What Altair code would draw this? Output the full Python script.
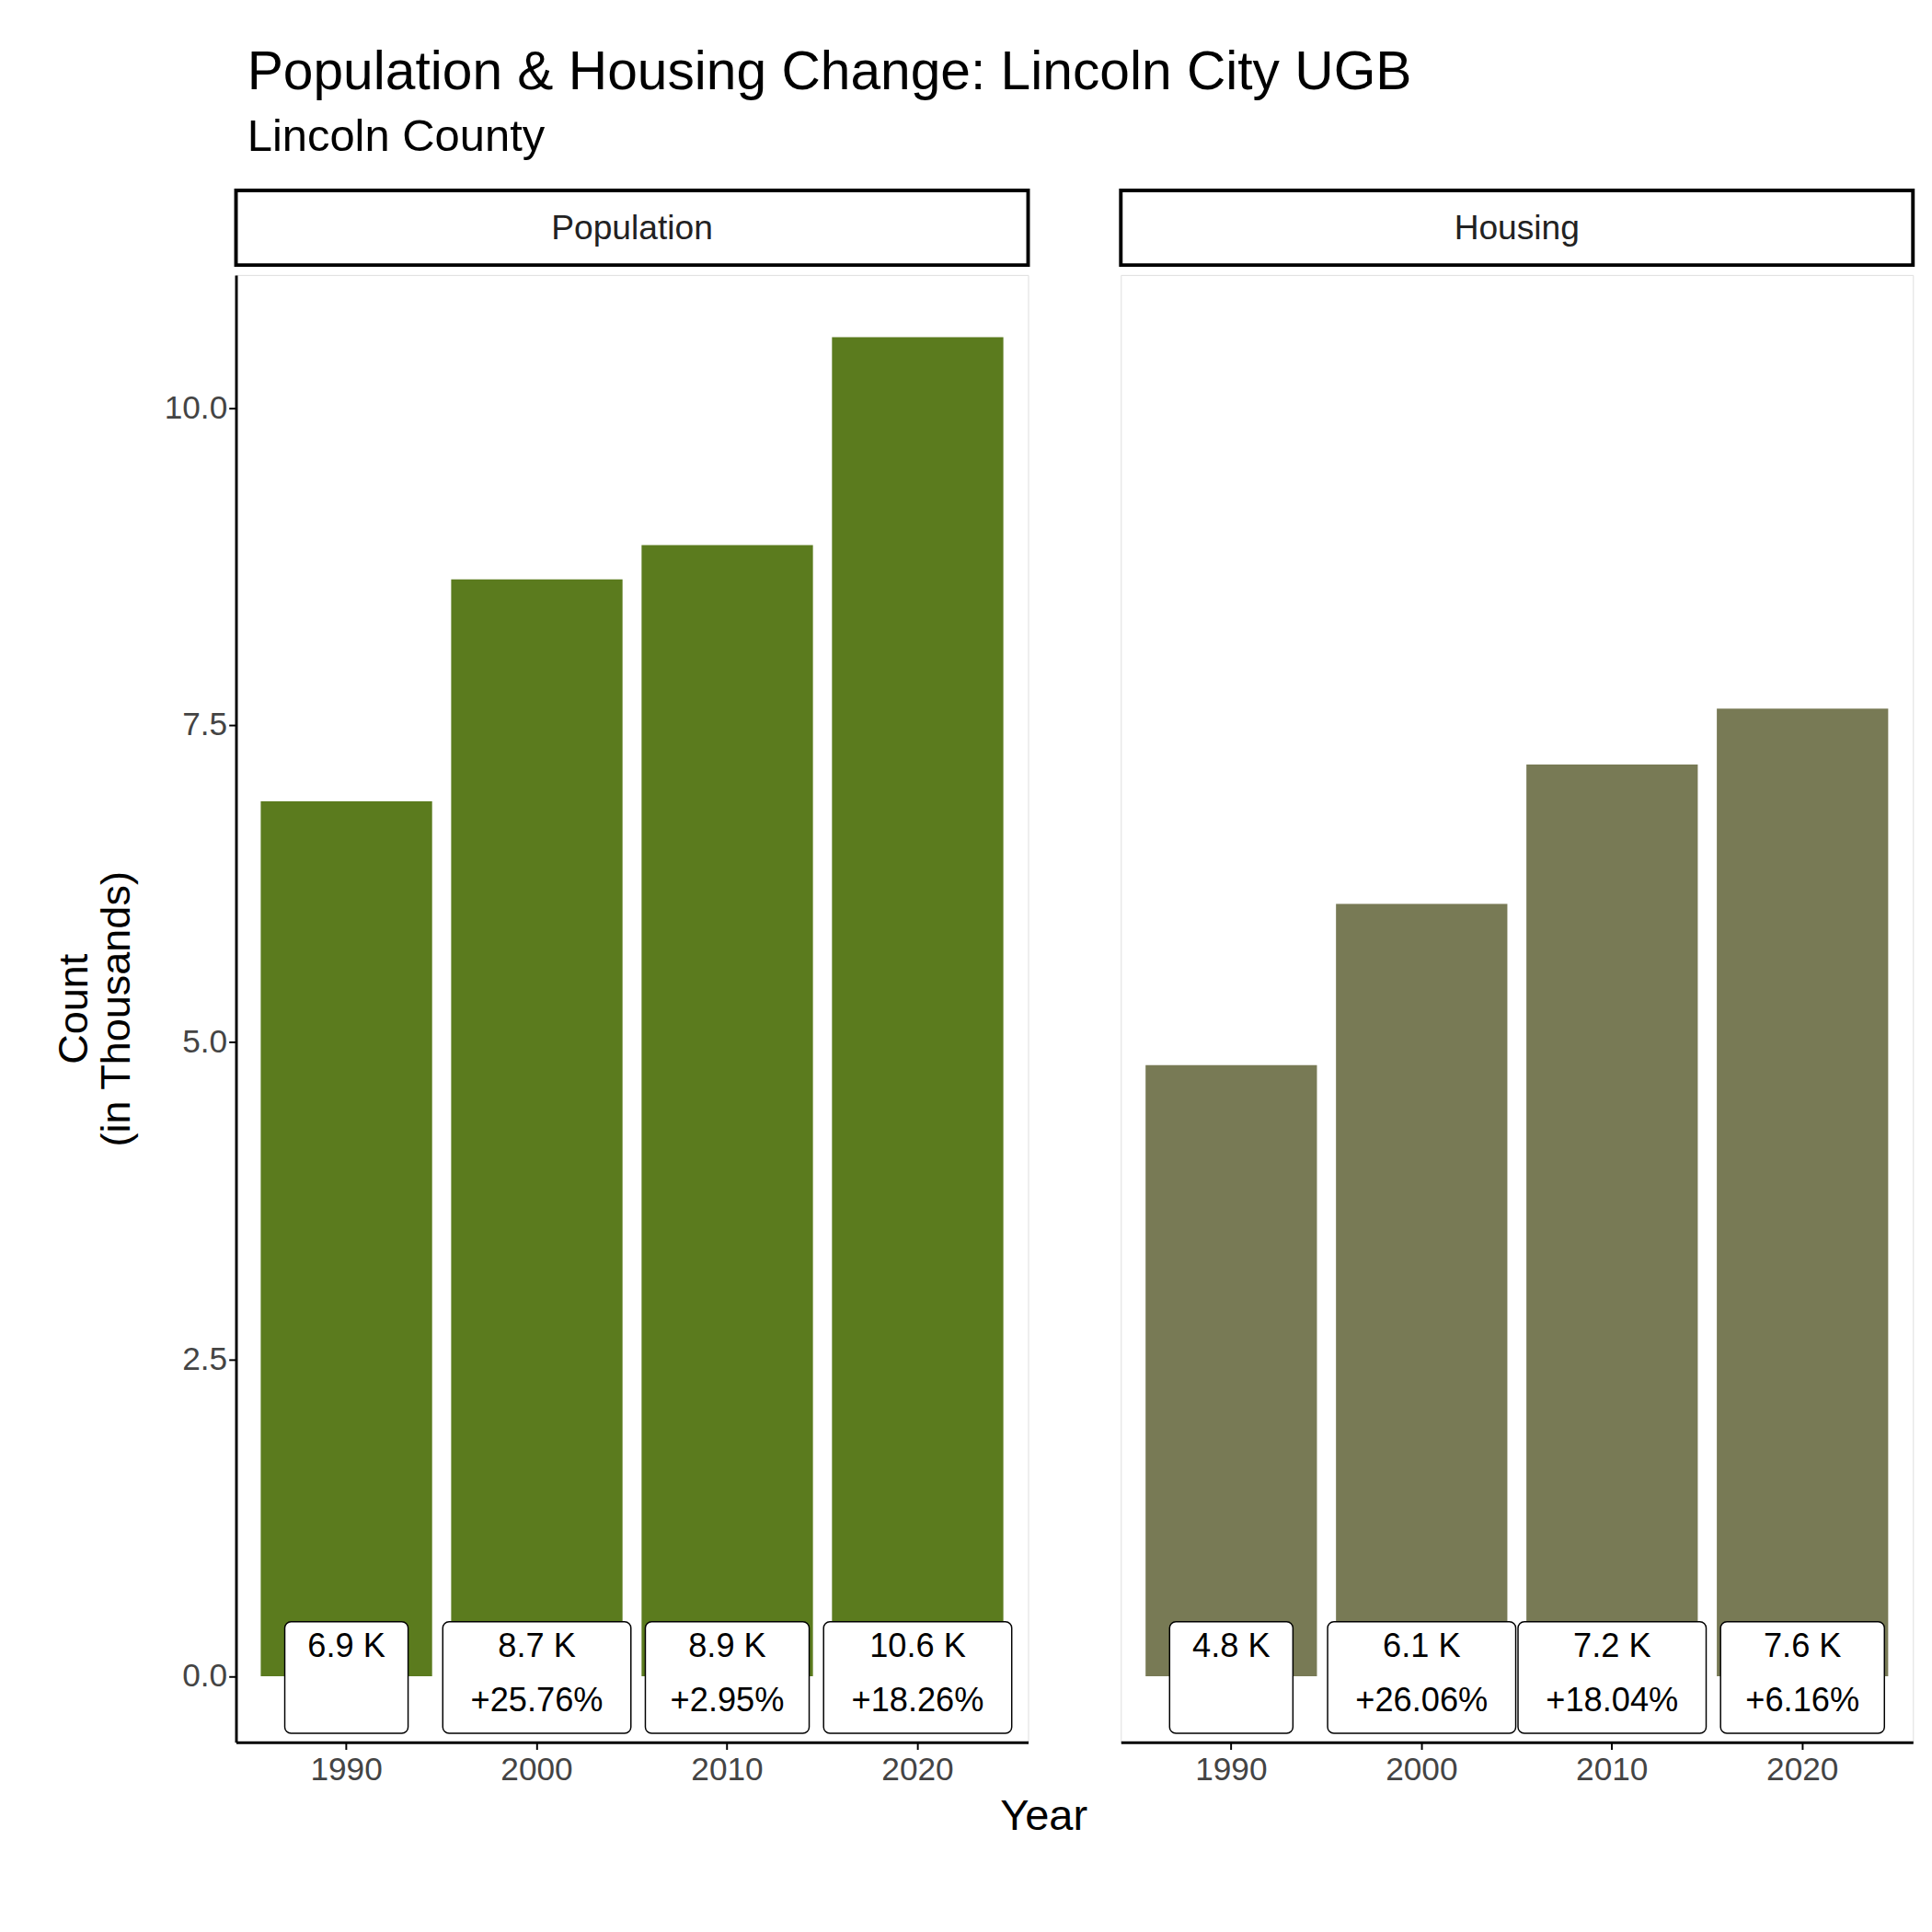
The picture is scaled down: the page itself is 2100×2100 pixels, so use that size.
import altair as alt
import pandas as pd

years = [1990, 2000, 2010, 2020]
population = [6.9, 8.65, 8.92, 10.56]
housing = [4.82, 6.09, 7.19, 7.63]
pop_labels = ["6.9 K", "8.7 K", "8.9 K", "10.6 K"]
pop_pct = ["", "+25.76%", "+2.95%", "+18.26%"]
hou_labels = ["4.8 K", "6.1 K", "7.2 K", "7.6 K"]
hou_pct = ["", "+26.06%", "+18.04%", "+6.16%"]

FONT = "Liberation Sans"
W, H = 880, 1630
YDOM = [-0.52, 11.05]


def panel(name, values, labels, pcts, color, left):
    df = pd.DataFrame({
        "year": [str(y) for y in years],
        "value": values,
        "label": labels,
        "pct": pcts,
    })
    df["boxw"] = [max(137, 20 + 27 * len(p)) for p in pcts]
    df["top"] = 0.43
    df["bottom"] = -0.45
    df["y1"] = 0.23
    df["y2"] = -0.2

    x = alt.X("year:O", scale=alt.Scale(paddingInner=0.1, paddingOuter=0.13),
              axis=alt.Axis(title="Year" if left else None, titleX=897 if left else 0,
                            labelAngle=0, labelFontSize=36, titleFontSize=48,
                            titleFontWeight="normal", titlePadding=10, labelColor="#444",
                            domainColor="black", domainWidth=3, tickColor="black", tickWidth=2,
                            tickSize=8, labelPadding=6))
    yscale = alt.Scale(domain=YDOM, nice=False, zero=False)
    if left:
        yaxis = alt.Axis(title=["Count", "(in Thousands)"], values=[0, 2.5, 5, 7.5, 10],
                         format=".1f", labelFontSize=36, titleFontSize=46,
                         titleFontWeight="normal", labelColor="#444", grid=False,
                         domainColor="black", domainWidth=3, tickColor="black", tickWidth=2,
                         tickSize=8, titlePadding=28)
    else:
        yaxis = None
    base = alt.Chart(df)
    bars = base.mark_bar(color=color).encode(
        x=x, y=alt.Y("value:Q", scale=yscale, axis=yaxis), y2=alt.datum(0))
    boxes = base.mark_bar(fill="white", stroke="black", strokeWidth=1.5, cornerRadius=7).encode(
        x="year:O", y=alt.Y("top:Q", scale=yscale), y2="bottom:Q",
        size=alt.Size("boxw:Q", scale=None))
    t1 = base.mark_text(fontSize=37, font=FONT, color="black").encode(
        x="year:O", y=alt.Y("y1:Q", scale=yscale), text="label:N")
    t2 = base.mark_text(fontSize=37, font=FONT, color="black").encode(
        x="year:O", y=alt.Y("y2:Q", scale=yscale), text="pct:N")
    main = alt.layer(bars, boxes, t1, t2).properties(width=W, height=H)

    strip_df = pd.DataFrame({"name": [name]})
    strip = alt.layer(
        alt.Chart(strip_df).mark_rect(fill="white", stroke="black", strokeWidth=4).encode(
            x=alt.value(0), x2=alt.value(W), y=alt.value(0), y2=alt.value(83)),
        alt.Chart(strip_df).mark_text(fontSize=38, font=FONT, color="#222").encode(
            x=alt.value(W / 2), y=alt.value(43), text="name:N"),
    ).properties(width=W, height=83)
    return alt.vconcat(strip, main, spacing=7)


left = panel("Population", population, pop_labels, pop_pct, "#5B7B1E", True)
right = panel("Housing", housing, hou_labels, hou_pct, "#787A55", False)

chart = alt.hconcat(left, right, spacing=34).properties(
    title=alt.TitleParams("Population & Housing Change: Lincoln City UGB",
                          subtitle="Lincoln County", anchor="start", fontSize=60,
                          subtitleFontSize=50, font=FONT, subtitleFont=FONT,
                          fontWeight="normal", color="black", subtitleColor="black",
                          offset=30, dx=216, subtitlePadding=16),
    padding={"left": 50, "top": 20, "right": 10, "bottom": 10},
).configure_view(stroke=None, strokeWidth=0).configure_axis(
    labelFont=FONT, titleFont=FONT, titleColor="black"
).configure(background="white")

chart.save("out.html", embed_options={"renderer": "svg", "actions": False})
